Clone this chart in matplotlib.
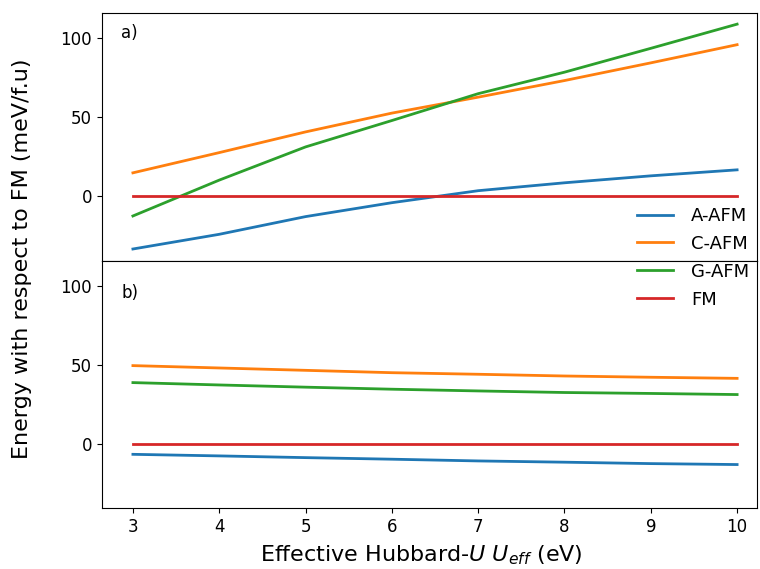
import matplotlib
matplotlib.use("Agg")
import matplotlib.pyplot as plt

U = [3, 4, 5, 6, 7, 8, 9, 10]

# panel a)
a_aafm = [-33.3, -24.0, -12.8, -4.0, 3.6, 8.6, 13.0, 16.8]
a_cafm = [14.9, 27.7, 40.8, 52.7, 62.8, 73.3, 84.5, 96.0]
a_gafm = [-12.4, 10.3, 31.3, 48.0, 65.0, 78.6, 93.7, 109.0]
a_fm = [0, 0, 0, 0, 0, 0, 0, 0]

# panel b)
b_aafm = [-6.8, -7.8, -8.9, -9.9, -11.0, -11.8, -12.7, -13.3]
b_cafm = [49.6, 48.1, 46.6, 45.1, 44.1, 43.0, 42.2, 41.5]
b_gafm = [38.8, 37.3, 35.9, 34.6, 33.5, 32.5, 31.9, 31.2]
b_fm = [0, 0, 0, 0, 0, 0, 0, 0]

labels = ["A-AFM", "C-AFM", "G-AFM", "FM"]
colors = ["#1f77b4", "#ff7f0e", "#2ca02c", "#d62728"]

fig = plt.figure(figsize=(7.6, 5.69), dpi=100)
ax1 = fig.add_axes([0.134, 0.541, 0.862, 0.436])
ax2 = fig.add_axes([0.134, 0.107, 0.862, 0.434], sharex=ax1)

for ax, series in ((ax1, [a_aafm, a_cafm, a_gafm, a_fm]), (ax2, [b_aafm, b_cafm, b_gafm, b_fm])):
    for s, lab, c in zip(series, labels, colors):
        ax.plot(U, s, color=c, lw=2, label=lab)
    ax.set_ylim(-41, 116)
    ax.set_yticks([0, 50, 100])
    ax.tick_params(labelsize=12)

ax1.set_xlim(2.64, 10.23)
ax1.tick_params(labelbottom=False)
ax2.set_xticks(U)
ax1.text(0.03, 0.92, "a)", transform=ax1.transAxes, fontsize=12, va="center")
ax2.text(0.03, 0.87, "b)", transform=ax2.transAxes, fontsize=12, va="center")

handles, labs = ax1.get_legend_handles_labels()
fig.legend(handles, labs, loc="center", bbox_to_anchor=(0.912, 0.547), frameon=False,
           fontsize=13, handletextpad=1.0, labelspacing=0.55)

fig.text(0.029, 0.545, "Energy with respect to FM (meV/f.u)", rotation=90, va="center", ha="center", fontsize=16)
fig.text(0.555, 0.025, "Effective Hubbard-$U$ $U_{eff}$ (eV)", va="center", ha="center", fontsize=16)

fig.savefig("out.png", dpi=100)
